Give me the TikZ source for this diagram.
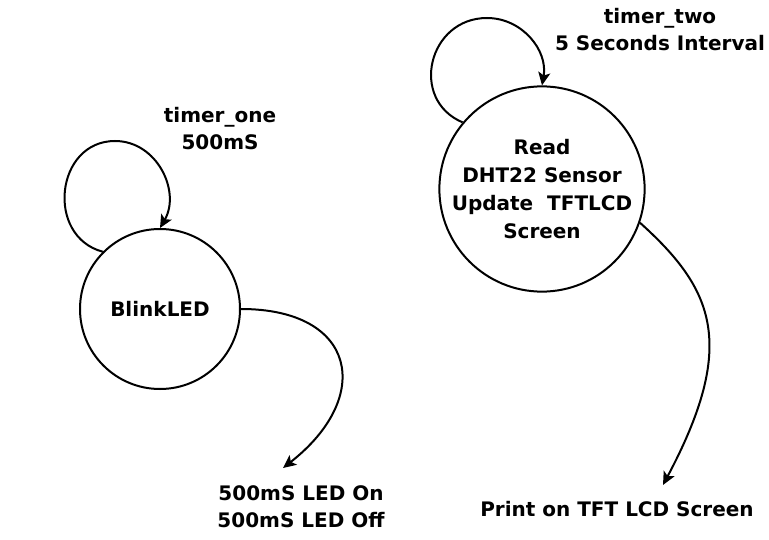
\documentclass[tikz,border=0pt]{standalone}
\usepackage{fontspec}
\setmainfont{DejaVu Sans}
\usetikzlibrary{arrows.meta}

\begin{document}
\begin{tikzpicture}[x=1pt,y=1pt,
    state/.style={draw,circle,line width=2pt,inner sep=0pt,font=\bfseries\fontsize{20}{28}\selectfont,align=center},
    lbl/.style={font=\bfseries\fontsize{20}{27}\selectfont,align=center},
    flow/.style={line width=2pt,-{Stealth[length=13pt,width=12pt,inset=3pt]}}]
  \useasboundingbox (0,0) rectangle (769,539);
  \node[state,minimum size=160pt] (blink) at (160,230) {BlinkLED};
  \node[state,minimum size=200pt] (dht) at (542,350) {Read\\DHT22 Sensor\\Update\ \ TFTLCD\\Screen};
  \node[lbl] (t1) at (220,410) {timer\_one\\500mS};
  \node[lbl] (t2) at (660,509) {timer\_two\\5 Seconds Interval};
  \node[lbl] (ledtxt) at (301,32) {500mS LED On\\500mS LED Off};
  \node[lbl] (printtxt) at (617,30) {Print on TFT LCD Screen};
  \coordinate (looponetop) at (115,398);
  \coordinate (looptwotop) at (487,521);
  \coordinate (ledend) at (283,71);
  \coordinate (printend) at (663,54);
  % self loops
  \draw[flow] (blink.135) to[out=165,in=180,looseness=1.37] (looponetop)
    to[out=0,in=60,looseness=1.1] (blink.north);
  \draw[flow] (dht.140) to[out=157,in=180,looseness=1.4] (looptwotop)
    to[out=0,in=80,looseness=1.04] (dht.north);
  % outputs
  \draw[flow] (blink.east) to[out=0,in=38,looseness=1.8] (ledend);
  \draw[flow] (dht.-19) to[out=-42,in=62,out looseness=0.97,in looseness=1.55] (printend);
\end{tikzpicture}
\end{document}
